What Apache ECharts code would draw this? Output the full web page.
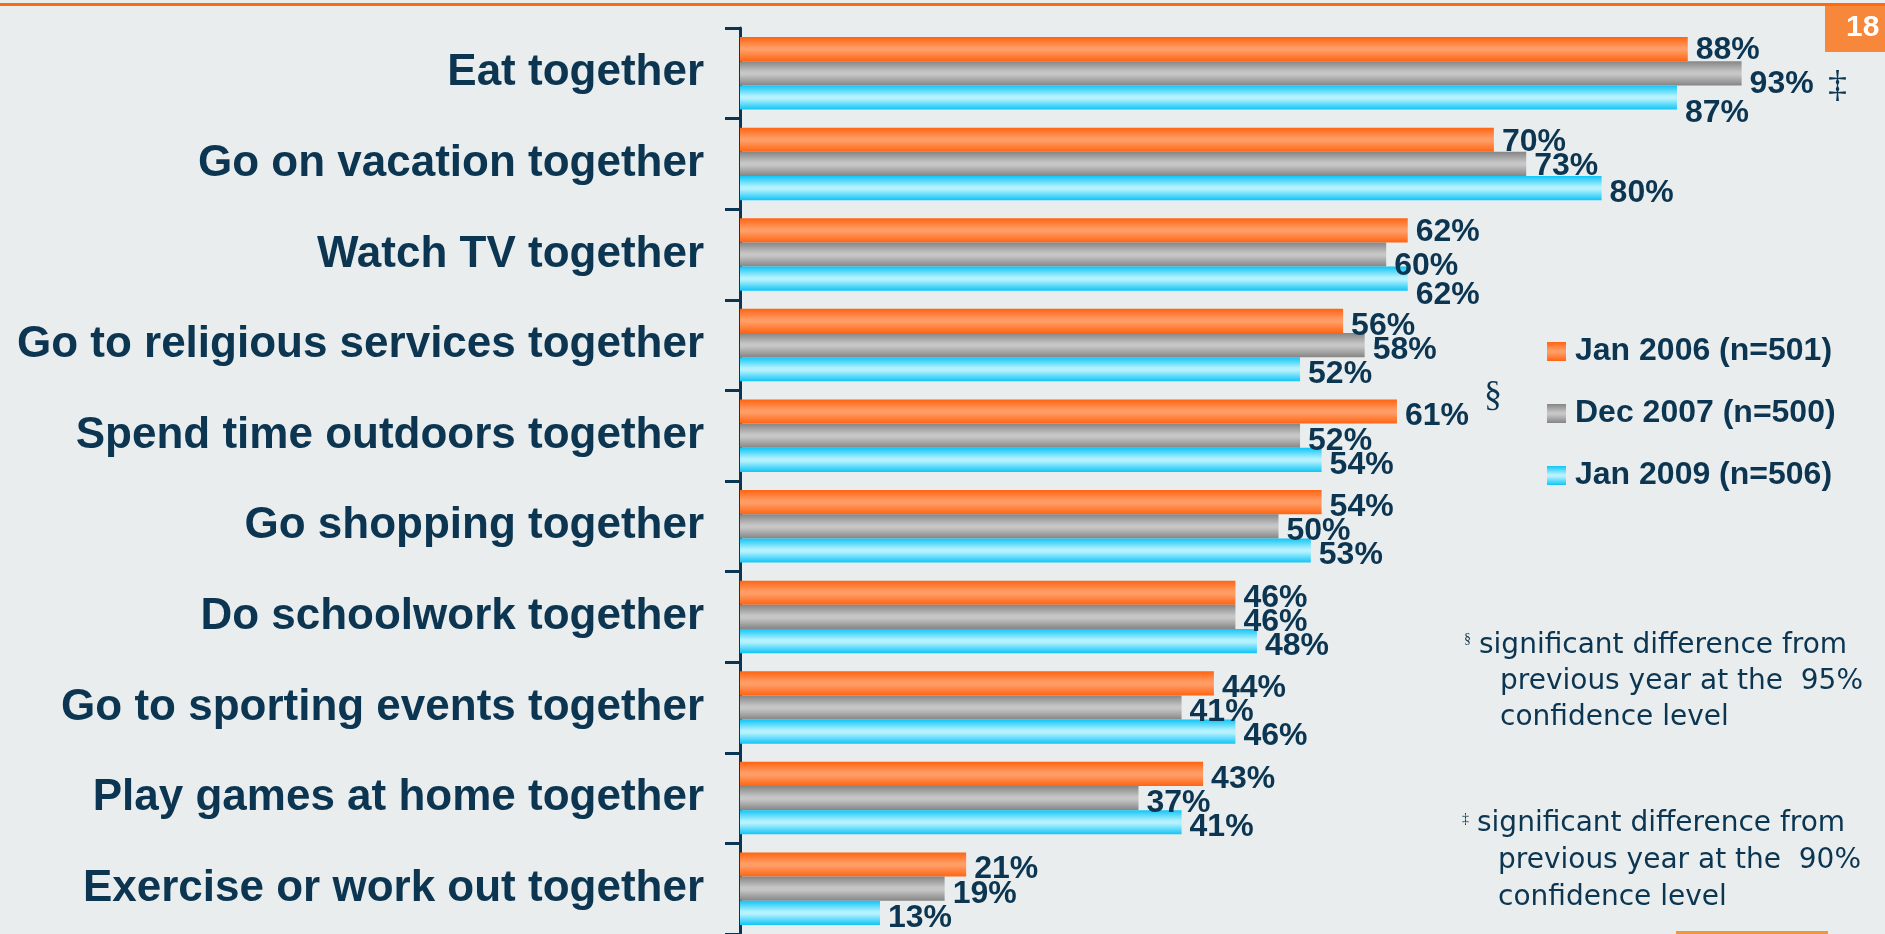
<!DOCTYPE html>
<html>
<head>
<meta charset="utf-8">
<script src="https://cdn.jsdelivr.net/npm/echarts@6/dist/echarts.min.js"></script>
<style>
  html, body { margin: 0; padding: 0; background: #e9edee; }
  #chart { width: 1885px; height: 934px; }
</style>
</head>
<body>
<div id="chart"></div>
<script>
const categories = [
  "Eat together",
  "Go on vacation together",
  "Watch TV together",
  "Go to religious services together",
  "Spend time outdoors together",
  "Go shopping together",
  "Do schoolwork together",
  "Go to sporting events together",
  "Play games at home together",
  "Exercise or work out together"
];
const seriesNames = ["Jan 2006 (n=501)", "Dec 2007 (n=500)", "Jan 2009 (n=506)"];
const jan2006 = [88, 70, 62, 56, 61, 54, 46, 44, 43, 21];
const dec2007 = [93, 73, 60, 58, 52, 50, 46, 41, 37, 19];
const jan2009 = [87, 80, 62, 52, 54, 53, 48, 46, 41, 13];

const navy = "#0b3550";
const font = "Liberation Sans, Arial, sans-serif";

// hand-placed labels in the original slide sit a bit differently on a few rows
const labelNudge = { 0: [-4, 6, 11], 1: [-3, -3, 0], 2: [-3, 7, 12] };

function grad(edge, mid) {
  return new echarts.graphic.LinearGradient(0, 0, 0, 1, [
    { offset: 0, color: edge },
    { offset: 0.45, color: mid },
    { offset: 0.55, color: mid },
    { offset: 1, color: edge }
  ]);
}

function barSeries(idx, data, color) {
  return {
    name: seriesNames[idx],
    type: "bar",
    data: data.map((v, i) => {
      const n = labelNudge[i] ? labelNudge[i][idx] : 0;
      return n ? { value: v, label: { offset: [0, 5 + n] } } : v;
    }),
    barGap: "0%",
    barCategoryGap: "20%",
    itemStyle: { color: color },
    label: {
      show: true,
      position: "right",
      distance: 8,
      offset: [0, 5],
      formatter: "{c}%",
      color: navy,
      fontSize: 32,
      fontWeight: "bold",
      fontFamily: font
    }
  };
}

const myCharts = echarts.init(document.getElementById("chart"));

const noteStyle = { fill: navy, fontSize: 28, fontFamily: "DejaVu Sans, sans-serif" };
function note(x, y, text) {
  return { type: "text", left: x, top: y, style: Object.assign({ text: text }, noteStyle) };
}

const option = {
  backgroundColor: "#e9edee",
  animation: false,
  grid: { left: 740, top: 28, width: 1077, height: 910 },
  xAxis: { type: "value", min: 0, max: 100, show: false },
  yAxis: {
    type: "category",
    data: categories,
    inverse: true,
    axisLine: { show: true, lineStyle: { color: navy, width: 3 } },
    axisTick: { show: true, length: 15, lineStyle: { color: navy, width: 3 } },
    axisLabel: {
      margin: 36,
      color: navy,
      fontSize: 44,
      fontWeight: "bold",
      fontFamily: font
    }
  },
  legend: {
    orient: "vertical",
    left: 1542,
    top: 328,
    icon: "rect",
    itemWidth: 19,
    itemHeight: 19,
    itemGap: 25,
    data: seriesNames,
    textStyle: {
      color: navy,
      fontSize: 32,
      fontWeight: "bold",
      lineHeight: 37,
      padding: [0, 0, 0, 4],
      fontFamily: font
    }
  },
  series: [
    barSeries(0, jan2006, grad("#ff6412", "#ff9d66")),
    barSeries(1, dec2007, grad("#858585", "#c6c6c6")),
    barSeries(2, jan2009, grad("#10c5f6", "#b4f2ff"))
  ],
  graphic: [
    { type: "rect", left: 0, top: 3, shape: { width: 1885, height: 3 }, style: { fill: "#ff6a10" } },
    { type: "rect", left: 1825, top: 6, shape: { width: 60, height: 46 }, style: { fill: "#f7873a" } },
    { type: "text", left: 1846, top: 13, style: { text: "18", fill: "#ffffff", fontSize: 30, fontWeight: "bold", fontFamily: font } },
    { type: "text", left: 1828, top: 68, style: { text: "\u2021", fill: navy, fontSize: 38, fontFamily: "Liberation Serif, serif" } },
    { type: "text", left: 1484, top: 378, style: { text: "\u00a7", fill: navy, fontSize: 36, fontFamily: "Liberation Serif, serif" } },
    { type: "text", left: 1464, top: 632, style: { text: "\u00a7", fill: navy, fontSize: 14, fontFamily: "Liberation Serif, serif" } },
    note(1479, 632, "significant difference from"),
    note(1500, 668, "previous year at the  95%"),
    note(1500, 704, "confidence level"),
    { type: "text", left: 1462, top: 812, style: { text: "\u2021", fill: navy, fontSize: 14, fontFamily: "Liberation Serif, serif" } },
    note(1477, 810, "significant difference from"),
    note(1498, 847, "previous year at the  90%"),
    note(1498, 884, "confidence level"),
    { type: "rect", left: 1676, top: 931, shape: { width: 152, height: 3 }, style: { fill: "#f0963c" } }
  ]
};

myCharts.setOption(option);
</script>
</body>
</html>
